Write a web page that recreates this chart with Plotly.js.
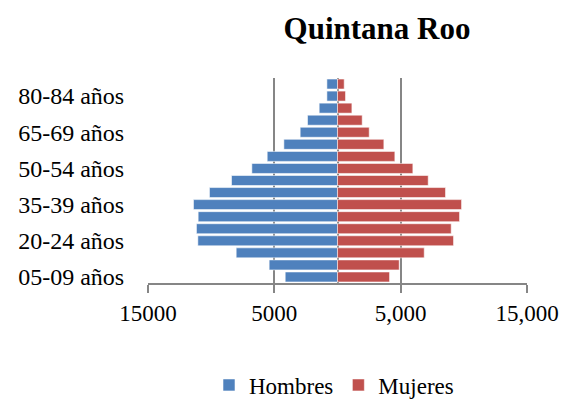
<!DOCTYPE html>
<html>
<head>
<meta charset="utf-8">
<script src="https://cdn.plot.ly/plotly-3.0.1.min.js"></script>
<style>html,body{margin:0;padding:0;background:#fff;}#chart{width:565px;height:400px;}</style>
</head>
<body>
<div id="chart"></div>
<script>
// Age groups, bottom to top
var categories = ["05-09 años","10-14 años","15-19 años","20-24 años","25-29 años","30-34 años","35-39 años","40-44 años","45-49 años","50-54 años","55-59 años","60-64 años","65-69 años","70-74 años","75-79 años","80-84 años","85 y más"];
// Values, bottom to top
var hombres = [4140, 5410, 8020, 11055, 11165, 11030, 11400, 10135, 8390, 6780, 5565, 4245, 2955, 2375, 1450, 840, 840];
var mujeres = [4120, 4885, 6865, 9185, 9000, 9660, 9820, 8550, 7180, 5965, 4540, 3670, 2510, 1955, 1140, 635, 530];
// Shown category labels
var yLabels = ["05-09 años","20-24 años","35-39 años","50-54 años","65-69 años","80-84 años"];
// X tick values and labels
var xTickVals = [-15000, -5000, 5000, 15000];
var xTickText = ["15000", "5000", "5,000", "15,000"];

var hombresNeg = hombres.map(function(v){ return -v; });
var font = "'Liberation Serif', 'Times New Roman', serif";

var traces = [
  {type:"bar", orientation:"h", name:"Hombres", y:categories, x:hombresNeg,
   marker:{color:"#4F81BD", line:{color:"rgba(255,255,255,0.55)", width:1}}},
  {type:"bar", orientation:"h", name:"Mujeres", y:categories, x:mujeres,
   marker:{color:"#C0504D", line:{color:"rgba(255,255,255,0.55)", width:1}}}
];

var layout = {
  width:565, height:400,
  margin:{l:148, r:38, t:78, b:117},
  paper_bgcolor:"#fff", plot_bgcolor:"#fff",
  font:{family:font, size:22, color:"#000"},
  barmode:"overlay",
  bargap:0.17,
  showlegend:true,
  title:{text:"<b>Quintana Roo</b>", font:{family:font, size:31, color:"#000"},
         x:377/565, xref:"container", xanchor:"center", y:1-28/400, yref:"container", yanchor:"middle"},
  xaxis:{range:[-15000,15000], tickvals:xTickVals, ticktext:xTickText,
         showgrid:true, gridcolor:"#868686", gridwidth:2,
         showline:true, linecolor:"#868686", linewidth:2,
         ticks:"outside", ticklen:8, tickwidth:2, tickcolor:"#868686",
         zeroline:true, zerolinecolor:"#868686", zerolinewidth:2,
         tickfont:{family:font, size:23, color:"#000"}, fixedrange:true},
  yaxis:{type:"category", categoryorder:"array", categoryarray:categories,
         tickvals:yLabels, ticktext:yLabels,
         showgrid:false, showline:false, zeroline:false,
         ticks:"outside", ticklen:18, tickcolor:"rgba(0,0,0,0)",
         tickfont:{family:font, size:24, color:"#000"}, fixedrange:true},
  legend:{orientation:"h", xref:"container", yref:"container", x:334/565, xanchor:"center",
          y:1-385/400, yanchor:"middle", font:{family:font, size:23, color:"#000"},
          traceorder:"normal", itemwidth:30}
};

Plotly.newPlot("chart", traces, layout, {displayModeBar:false, staticPlot:true});
</script>
</body>
</html>
